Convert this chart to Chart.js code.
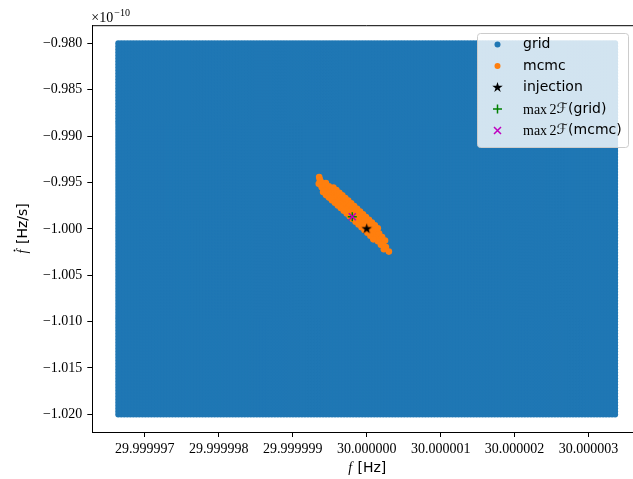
<!DOCTYPE html>
<html>
<head>
<meta charset="utf-8">
<script src="https://cdn.jsdelivr.net/npm/chart.js@4/dist/chart.umd.min.js"></script>
<style>
  html, body { margin: 0; padding: 0; background: #fff; overflow: hidden; width: 633px; height: 479px; }
  canvas { display: block; }
</style>
</head>
<body>
<canvas id="c" width="650" height="479"></canvas>
<script>
// ---- axis ticks ----
const fTicks = [29.999997, 29.999998, 29.999999, 30.000000, 30.000001, 30.000002, 30.000003];
const fdotTicks = [-0.980e-10, -0.985e-10, -0.990e-10, -0.995e-10, -1.000e-10,
                   -1.005e-10, -1.010e-10, -1.015e-10, -1.020e-10];
const fdotExponent = -10;

// ---- grid search lattice (edges and number of nodes per axis) ----
const gridFRange = [29.99999664, 30.00000336];
const gridFdotRange = [-1.02e-10, -0.98e-10];
const gridFNodes = 166;
const gridFdotNodes = 125;

// ---- MCMC samples ----
const mcmcF = [
  29.999999357, 29.999999365, 29.99999938, 29.99999942, 29.99999946, 29.9999995, 29.99999954,
  29.99999958, 29.99999962, 29.99999966, 29.9999997, 29.99999974, 29.99999978, 29.99999982,
  29.99999986, 29.9999999, 29.99999994, 29.99999998, 30.00000002, 30.00000006, 30.0000001,
  30.00000014, 30.00000018, 30.00000022, 30.00000026, 30.0000003,
  29.999999448, 29.999999488, 29.999999528, 29.999999568, 29.999999608, 29.999999648, 29.999999688,
  29.999999728, 29.999999768, 29.999999808, 29.999999848, 29.999999888, 29.999999928, 29.999999968,
  30.000000008, 30.000000048, 30.000000088, 30.000000128, 30.000000168, 30.000000208, 30.000000248,
  29.999999352, 29.999999392, 29.999999432, 29.999999472, 29.999999512, 29.999999552, 29.999999592,
  29.999999632, 29.999999672, 29.999999712, 29.999999752, 29.999999792, 29.999999832, 29.999999872,
  29.999999912, 29.999999952, 29.999999992, 30.000000032, 30.000000072, 30.000000112, 30.000000152,
  30.000000192, 30.000000232,
  29.99999955, 29.99999959, 29.99999963, 29.99999967, 29.99999971, 29.99999975, 29.99999979,
  29.99999983, 29.99999987, 29.99999991, 29.99999995, 29.99999999, 30.00000003, 30.00000007,
  30.00000011, 30.00000015,
  29.99999941, 29.99999945, 29.99999949, 29.99999953, 29.99999957, 29.99999961, 29.99999965,
  29.99999969, 29.99999973, 29.99999977, 29.99999981, 29.99999985, 29.99999989, 29.99999993,
  29.99999997, 30.00000001, 30.00000005, 30.00000009
];
const mcmcFdot = [
  -0.99441e-10, -0.99465e-10, -0.99492e-10, -0.99528e-10, -0.99564e-10, -0.99596e-10, -0.99623e-10,
  -0.99651e-10, -0.99679e-10, -0.99707e-10, -0.99735e-10, -0.99765e-10, -0.99794e-10, -0.99824e-10,
  -0.99854e-10, -0.99883e-10, -0.99913e-10, -0.99943e-10, -0.99972e-10, -1.00002e-10, -1.00034e-10,
  -1.00073e-10, -1.00111e-10, -1.00149e-10, -1.00197e-10, -1.00245e-10,
  -0.99505e-10, -0.99541e-10, -0.99573e-10, -0.99600e-10, -0.99628e-10, -0.99656e-10, -0.99684e-10,
  -0.99712e-10, -0.99742e-10, -0.99771e-10, -0.99801e-10, -0.99831e-10, -0.99860e-10, -0.99890e-10,
  -0.99920e-10, -0.99949e-10, -0.99979e-10, -1.00011e-10, -1.00050e-10, -1.00088e-10, -1.00126e-10,
  -0.99515e-10, -0.99551e-10, -0.99587e-10, -0.99619e-10, -0.99646e-10, -0.99674e-10, -0.99702e-10,
  -0.99730e-10, -0.99758e-10, -0.99788e-10, -0.99817e-10, -0.99847e-10, -0.99877e-10, -0.99906e-10,
  -0.99936e-10, -0.99966e-10, -0.99995e-10, -1.00025e-10, -1.00057e-10, -1.00096e-10, -1.00134e-10,
  -1.00172e-10, -1.00220e-10,
  -0.99556e-10, -0.99583e-10, -0.99611e-10, -0.99639e-10, -0.99667e-10, -0.99695e-10, -0.99725e-10,
  -0.99754e-10, -0.99784e-10, -0.99814e-10, -0.99843e-10, -0.99873e-10, -0.99903e-10, -0.99932e-10,
  -0.99962e-10, -0.99994e-10,
  -0.99604e-10, -0.99636e-10, -0.99663e-10, -0.99691e-10, -0.99719e-10, -0.99747e-10, -0.99775e-10,
  -0.99805e-10, -0.99834e-10, -0.99864e-10, -0.99894e-10, -0.99923e-10, -0.99953e-10, -0.99983e-10,
  -1.00012e-10, -1.00042e-10, -1.00074e-10, -1.00113e-10
];

// ---- single points ----
const injection = { f: 30.0, fdot: -1.0e-10 };
const maxGrid = { f: 29.999999805, fdot: -0.99869e-10 };
const maxMcmc = { f: 29.999999805, fdot: -0.99869e-10 };

// ---- axis limits ----
const fLimits = [29.999996289, 30.000003711];
const fdotLimits = [-1.0219e-10, -0.9781e-10];

// ---- styling ----
const C_GRID = '#1f77b4', C_MCMC = '#ff7f0e', C_INJ = '#000000', C_MAXG = '#008000', C_MAXM = '#bf00bf';
const SERIF = '"Liberation Serif", "DejaVu Serif", serif';
const SANS = '"DejaVu Sans", sans-serif';
const FS = 14;

// build the lattice of grid-search points
const gridPoints = [];
for (let i = 0; i < gridFNodes; i++) {
  const f = gridFRange[0] + (gridFRange[1] - gridFRange[0]) * i / (gridFNodes - 1);
  for (let j = 0; j < gridFdotNodes; j++) {
    const fd = gridFdotRange[0] + (gridFdotRange[1] - gridFdotRange[0]) * j / (gridFdotNodes - 1);
    gridPoints.push({ x: f, y: fd });
  }
}
const mcmcPoints = mcmcF.map((f, i) => ({ x: f, y: mcmcFdot[i] }));

// filled five-pointed star marker
function makeStar(R) {
  const s = Math.ceil(2 * R + 2);
  const cv = document.createElement('canvas');
  cv.width = cv.height = s;
  const g = cv.getContext('2d');
  g.beginPath();
  for (let k = 0; k < 10; k++) {
    const r = (k % 2) ? R * 0.381966 : R;
    const a = -Math.PI / 2 + k * Math.PI / 5;
    g.lineTo(s / 2 + r * Math.cos(a), s / 2 + r * Math.sin(a));
  }
  g.closePath();
  g.fillStyle = C_INJ;
  g.fill();
  return cv;
}
const starImg = makeStar(5.5);

function fmtMinus(s) { return s.replace('-', '\u2212'); }

// frame, offset text, axis labels and legend
const decorations = {
  id: 'decorations',
  afterDraw(chart) {
    const ctx = chart.ctx;
    const a = chart.chartArea;
    ctx.save();
    // top and right spines
    ctx.strokeStyle = '#000';
    ctx.lineWidth = 1;
    ctx.beginPath();
    ctx.moveTo(a.left, a.top);
    ctx.lineTo(a.right, a.top);
    ctx.lineTo(a.right, a.bottom);
    ctx.stroke();

    ctx.fillStyle = '#000';
    ctx.textBaseline = 'alphabetic';
    // offset text  ×10^-10
    ctx.font = `${FS}px ${SERIF}`;
    ctx.textAlign = 'left';
    const ox = a.left - 1;
    ctx.fillText('\u00d710', ox, 22);
    const w1 = ctx.measureText('\u00d710').width;
    ctx.font = `${FS * 0.72}px ${SERIF}`;
    ctx.fillText('\u2212' + Math.abs(fdotExponent), ox + w1 + 1, 16);

    // x label: f [Hz]
    const xc = (a.left + a.right) / 2, yb = 472;
    ctx.font = `italic ${FS}px ${SERIF}`;
    const wf = ctx.measureText('f').width;
    ctx.font = `${FS}px ${SANS}`;
    const wu = ctx.measureText(' [Hz]').width;
    let x0 = xc - (wf + wu) / 2;
    ctx.font = `italic ${FS}px ${SERIF}`;
    ctx.fillText('f', x0, yb);
    ctx.font = `${FS}px ${SANS}`;
    ctx.fillText(' [Hz]', x0 + wf + 1, yb);

    // y label: fdot [Hz/s]
    ctx.save();
    ctx.translate(27, (a.top + a.bottom) / 2);
    ctx.rotate(-Math.PI / 2);
    ctx.font = `italic ${FS}px ${SERIF}`;
    const wf2 = ctx.measureText('f').width;
    ctx.font = `${FS}px ${SANS}`;
    const wu2 = ctx.measureText(' [Hz/s]').width;
    x0 = -(wf2 + wu2) / 2;
    ctx.font = `italic ${FS}px ${SERIF}`;
    ctx.fillText('f', x0, 0);
    ctx.beginPath();
    ctx.arc(x0 + wf2 * 0.75, -12.5, 0.9, 0, Math.PI * 2);
    ctx.fill();
    ctx.font = `${FS}px ${SANS}`;
    ctx.fillText(' [Hz/s]', x0 + wf2 + 1, 0);
    ctx.restore();

    // legend
    const L = { x: 477, y: 33, w: 151, h: 114, r: 3 };
    ctx.beginPath();
    ctx.roundRect(L.x + 0.5, L.y + 0.5, L.w, L.h, L.r);
    ctx.fillStyle = 'rgba(255,255,255,0.8)';
    ctx.fill();
    ctx.strokeStyle = '#cccccc';
    ctx.lineWidth = 1;
    ctx.stroke();

    const rows = [44.5, 66, 87.5, 109, 130.5];
    const hx = 497.5, tx = 523;
    // handles
    ctx.fillStyle = C_GRID;
    ctx.beginPath(); ctx.arc(hx, rows[0], 3, 0, Math.PI * 2); ctx.fill();
    ctx.fillStyle = C_MCMC;
    ctx.beginPath(); ctx.arc(hx, rows[1], 3, 0, Math.PI * 2); ctx.fill();
    ctx.drawImage(starImg, hx - starImg.width / 2, rows[2] - starImg.height / 2);
    ctx.strokeStyle = C_MAXG; ctx.lineWidth = 1.5;
    ctx.beginPath();
    ctx.moveTo(hx - 4.5, rows[3]); ctx.lineTo(hx + 4.5, rows[3]);
    ctx.moveTo(hx, rows[3] - 4.5); ctx.lineTo(hx, rows[3] + 4.5);
    ctx.stroke();
    ctx.strokeStyle = C_MAXM;
    ctx.beginPath();
    ctx.moveTo(hx - 3.5, rows[4] - 3.5); ctx.lineTo(hx + 3.5, rows[4] + 3.5);
    ctx.moveTo(hx - 3.5, rows[4] + 3.5); ctx.lineTo(hx + 3.5, rows[4] - 3.5);
    ctx.stroke();

    // labels
    ctx.fillStyle = '#000';
    ctx.textBaseline = 'middle';
    ctx.font = `${FS}px ${SANS}`;
    ctx.fillText('grid', tx, rows[0]);
    ctx.fillText('mcmc', tx, rows[1]);
    ctx.fillText('injection', tx, rows[2]);
    const mathLabel = (y, tail) => {
      let x = tx;
      ctx.font = `${FS}px ${SERIF}`;
      ctx.fillText('max', x, y + 1); x += ctx.measureText('max').width + 2.5;
      ctx.fillText('2', x, y + 1); x += ctx.measureText('2').width;
      ctx.font = `${FS}px ${SANS}`;
      ctx.fillText('\u2131', x, y); x += ctx.measureText('\u2131').width + 0.5;
      ctx.font = `${FS}px ${SANS}`;
      ctx.fillText(tail, x, y);
    };
    mathLabel(rows[3], '(grid)');
    mathLabel(rows[4], '(mcmc)');
    ctx.restore();
  }
};

new Chart(document.getElementById('c'), {
  type: 'scatter',
  data: {
    datasets: [
      { label: 'grid', data: gridPoints, parsing: false, normalized: true,
        pointRadius: 3, pointBorderWidth: 0, backgroundColor: C_GRID, borderColor: C_GRID, order: 5 },
      { label: 'mcmc', data: mcmcPoints, parsing: false,
        pointRadius: 3.3, pointBorderWidth: 0, backgroundColor: C_MCMC, borderColor: C_MCMC, order: 4 },
      { label: 'injection', data: [{ x: injection.f, y: injection.fdot }], parsing: false,
        pointStyle: starImg, pointRadius: 6, order: 3 },
      { label: 'max 2F(grid)', data: [{ x: maxGrid.f, y: maxGrid.fdot }], parsing: false,
        pointStyle: 'cross', pointRadius: 4.5, borderWidth: 1.5, pointBorderWidth: 1.5,
        borderColor: C_MAXG, backgroundColor: C_MAXG, order: 2 },
      { label: 'max 2F(mcmc)', data: [{ x: maxMcmc.f, y: maxMcmc.fdot }], parsing: false,
        pointStyle: 'crossRot', pointRadius: 5, borderWidth: 1.5, pointBorderWidth: 1.5,
        borderColor: C_MAXM, backgroundColor: C_MAXM, order: 1 }
    ]
  },
  options: {
    responsive: false,
    animation: false,
    events: [],
    layout: { padding: { left: 0, top: 25.7, right: 8.9, bottom: 0 } },
    plugins: { legend: { display: false }, tooltip: { enabled: false } },
    scales: {
      x: {
        type: 'linear',
        min: fLimits[0], max: fLimits[1],
        afterFit(s) { s.height = 47; },
        afterBuildTicks(s) { s.ticks = fTicks.map(v => ({ value: v })); },
        grid: { display: true, drawOnChartArea: false, drawTicks: true, tickLength: 5, tickColor: '#000', tickWidth: 1 },
        border: { display: true, color: '#000', width: 1 },
        ticks: {
          autoSkip: false, maxRotation: 0, padding: 4, color: '#000',
          font: { family: SERIF, size: FS },
          callback: v => v.toFixed(6)
        }
      },
      y: {
        type: 'linear',
        min: fdotLimits[0], max: fdotLimits[1],
        afterFit(s) { s.width = 92.3; },
        afterBuildTicks(s) { s.ticks = fdotTicks.map(v => ({ value: v })); },
        grid: { display: true, drawOnChartArea: false, drawTicks: true, tickLength: 5, tickColor: '#000', tickWidth: 1 },
        border: { display: true, color: '#000', width: 1 },
        ticks: {
          autoSkip: false, padding: 5, color: '#000',
          font: { family: SERIF, size: FS },
          callback: v => fmtMinus((v / Math.pow(10, fdotExponent)).toFixed(3))
        }
      }
    }
  },
  plugins: [decorations]
});
</script>
</body>
</html>
